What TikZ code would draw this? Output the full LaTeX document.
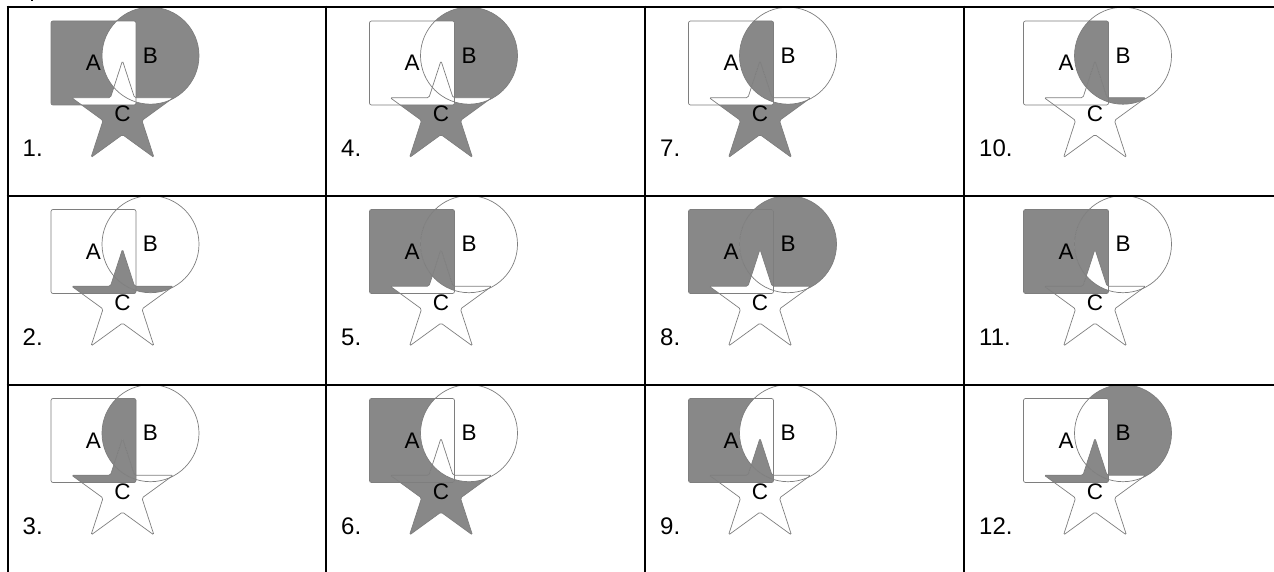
\documentclass[tikz,border=0pt]{standalone}
\usepackage{fontspec}
\setmainfont{Liberation Sans}
\definecolor{shadegray}{HTML}{888888}
\definecolor{linegray}{HTML}{7E7E7E}
\tikzset{
  shadefill/.style={fill=shadegray},
  outline/.style={draw=linegray, line width=0.7pt},
  gridline/.style={line width=2pt, draw=black},
  setlabel/.style={font=\fontsize{22.5}{22.5}\selectfont, inner sep=0pt},
  numlabel/.style={font=\fontsize{24}{24}\selectfont, inner sep=0pt, anchor=base west},
}
\newcommand\inA{\clip (43.5,-14) rectangle (128.5,-98);}
\newcommand\outA{\clip (-30,30) rectangle (360,-220) (43.5,-14) rectangle (128.5,-98);}
\newcommand\inB{\clip (143,-48.7) circle (48.5);}
\newcommand\outB{\clip (-30,30) rectangle (360,-220) (143,-48.7) circle (48.5);}
\newcommand\inC{\clip (115,-53.7) -- (102.99,-90.66) -- (64.12,-90.66) -- (95.56,-113.52) -- (83.55,-150.48) -- (115,-127.64) -- (146.45,-150.48) -- (134.44,-113.52) -- (165.88,-90.66) -- (127.01,-90.66) -- cycle;}
\newcommand\outC{\clip (-30,30) rectangle (360,-220) (115,-53.7) -- (102.99,-90.66) -- (64.12,-90.66) -- (95.56,-113.52) -- (83.55,-150.48) -- (115,-127.64) -- (146.45,-150.48) -- (134.44,-113.52) -- (165.88,-90.66) -- (127.01,-90.66) -- cycle;}
\newcommand\atom[3]{\begin{scope}[even odd rule, rounded corners=1.5pt]\ifnum#1=1 \inA\else\outA\fi\ifnum#2=1 \inB\else\outB\fi\ifnum#3=1 \inC\else\outC\fi\fill[shadefill,sharp corners] (-30,30) rectangle (360,-220);\end{scope}}
\newcommand\vcell[5]{%
  \node[numlabel] (n#1) at (#2+15,-#3-149.7) {#1.};
  \begin{scope}[shift={(#2+#4,-#3)}]
    #5
    \draw[outline,rounded corners=2pt] (43.5,-14) rectangle (128.5,-98);
    \draw[outline] (143,-48.7) circle (48.5);
    \draw[outline,rounded corners=1.5pt] (115,-53.7) -- (102.99,-90.66) -- (64.12,-90.66) -- (95.56,-113.52) -- (83.55,-150.48) -- (115,-127.64) -- (146.45,-150.48) -- (134.44,-113.52) -- (165.88,-90.66) -- (127.01,-90.66) -- cycle;
    \node[setlabel] (A#1) at (86,-56) {A};
    \node[setlabel] (B#1) at (143,-48.7) {B};
    \node[setlabel] (C#1) at (115,-107.2) {C};
  \end{scope}}
\begin{document}
\begin{tikzpicture}[x=1pt,y=1pt]
\useasboundingbox (0,0) rectangle (1274,-572);
\fill (31,0) rectangle (33,-1.3);
% column 1
\vcell{1}{7.5}{7}{0}{\atom100\atom010\atom001}
\vcell{2}{7.5}{195.5}{0}{\atom101\atom011\atom111}
\vcell{3}{7.5}{384.5}{0}{\atom110\atom101\atom111}
% column 2
\vcell{4}{326}{7}{0}{\atom010\atom001}
\vcell{5}{326}{195.5}{0}{\atom100\atom110\atom111}
\vcell{6}{326}{384.5}{0}{\atom100\atom001\atom101}
% column 3
\vcell{7}{645}{7}{0}{\atom110\atom111\atom001}
\vcell{8}{645}{195.5}{0}{\atom100\atom010\atom110}
\vcell{9}{645}{384.5}{0}{\atom100\atom101\atom111}
% column 4
\vcell{10}{964}{7}{16}{\atom110\atom011\atom111}
\vcell{11}{964}{195.5}{16}{\atom100\atom110\atom101}
\vcell{12}{964}{384.5}{16}{\atom010\atom101\atom111}
% grid
\draw[gridline] (6.5,-6.7) -- (1274,-6.7);
\draw[gridline] (6.5,-195.7) -- (1274,-195.7);
\draw[gridline] (6.5,-385.3) -- (1274,-385.3);
\draw[gridline] (7.5,-5.7) -- (7.5,-572);
\draw[gridline] (326,-5.7) -- (326,-572);
\draw[gridline] (645,-5.7) -- (645,-572);
\draw[gridline] (964,-5.7) -- (964,-572);
\end{tikzpicture}
\end{document}
